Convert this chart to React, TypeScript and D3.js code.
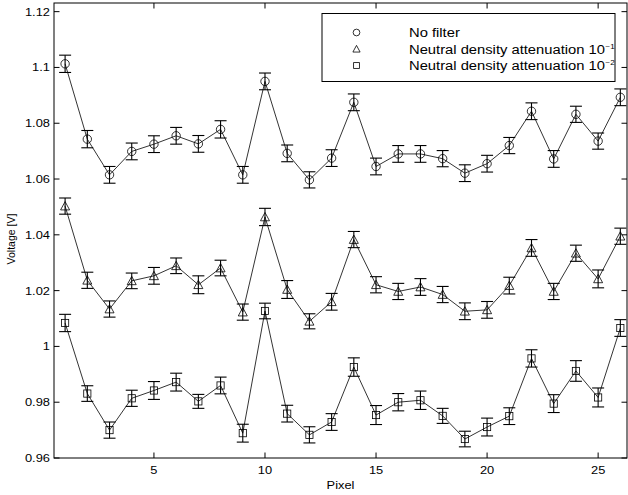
import { useEffect, useRef } from 'react';
import * as d3 from 'd3';

const pixels = [1, 2, 3, 4, 5, 6, 7, 8, 9, 10, 11, 12, 13, 14, 15, 16, 17, 18, 19, 20, 21, 22, 23, 24, 25, 26];

const noFilter = [1.1013, 1.0743, 1.0615, 1.0699, 1.0725, 1.0755, 1.0726, 1.0778, 1.0615, 1.0950, 1.0692, 1.0597, 1.0675,
  1.0875, 1.0645, 1.0690, 1.0690, 1.0673, 1.0621, 1.0655, 1.0720, 1.0843, 1.0672, 1.0832, 1.0736, 1.0893];
const noFilterErr = [0.0031, 0.0031, 0.0030, 0.0030, 0.0030, 0.0030, 0.0030, 0.0031, 0.0030, 0.0030, 0.0030, 0.0029, 0.0030,
  0.0030, 0.0030, 0.0030, 0.0030, 0.0029, 0.0030, 0.0030, 0.0029, 0.0030, 0.0030, 0.0029, 0.0029, 0.0030];

const nd1 = [1.0503, 1.0237, 1.0134, 1.0235, 1.0253, 1.0289, 1.0221, 1.0281, 1.0123, 1.0464, 1.0204, 1.0090, 1.0160,
  1.0383, 1.0221, 1.0197, 1.0213, 1.0186, 1.0126, 1.0131, 1.0218, 1.0353, 1.0197, 1.0334, 1.0242, 1.0395];
const nd1Err = [0.0029, 0.0029, 0.0029, 0.0028, 0.0030, 0.0028, 0.0032, 0.0028, 0.0029, 0.0031, 0.0032, 0.0027, 0.0030,
  0.0029, 0.0029, 0.0029, 0.0030, 0.0029, 0.0030, 0.0030, 0.0030, 0.0030, 0.0029, 0.0029, 0.0032, 0.0029];

const nd2 = [1.0084, 0.9831, 0.9700, 0.9814, 0.9842, 0.9872, 0.9803, 0.9860, 0.9689, 1.0127, 0.9759, 0.9683, 0.9729,
  0.9926, 0.9754, 0.9800, 0.9807, 0.9751, 0.9668, 0.9711, 0.9750, 0.9957, 0.9795, 0.9912, 0.9817, 1.0066];
const nd2Err = [0.0031, 0.0028, 0.0029, 0.0029, 0.0032, 0.0032, 0.0025, 0.0030, 0.0032, 0.0028, 0.0030, 0.0029, 0.0030,
  0.0033, 0.0034, 0.0031, 0.0033, 0.0027, 0.0028, 0.0032, 0.0030, 0.0031, 0.0032, 0.0037, 0.0034, 0.0030];

const xTicks = [5, 10, 15, 20, 25];
const yTicks = [0.96, 0.98, 1.0, 1.02, 1.04, 1.06, 1.08, 1.1, 1.12];

const legendLabels = ['No filter', 'Neutral density attenuation 10', 'Neutral density attenuation 10'];
const legendSups = ['', '\u22121', '\u22122'];

const FONT = '"Liberation Sans", Arial, Helvetica, sans-serif';

type Shape = 'circle' | 'triangle' | 'square';
type G = d3.Selection<SVGGElement, unknown, null, undefined>;

const App = () => {
  const ref = useRef<SVGSVGElement>(null);

  useEffect(() => {
    if (!ref.current) return;
    const svg = d3.select(ref.current);
    svg.selectAll('*').remove();

    const left = 54, right = 627, top = 3, bottom = 458;

    const x = d3.scaleLinear().domain([0.5, 26.3]).range([left, right]);
    const y = d3.scaleLinear().domain([0.96, 1.1231]).range([bottom, top]);

    // the original renderer's text is a bit wider than Liberation Sans
    const label = (g: G, tx: number, ty: number, str: string, size: number, sx: number, anchor: string) =>
      g.append('text')
        .attr('transform', `translate(${tx},${ty}) scale(${sx},1)`)
        .attr('text-anchor', anchor)
        .attr('font-family', FONT)
        .attr('font-size', size)
        .attr('fill', '#000')
        .text(str);

    const drawMarker = (g: G, shape: Shape, cx: number, cy: number, s: number) => {
      if (shape === 'circle') {
        g.append('circle').attr('cx', cx).attr('cy', cy).attr('r', 4.2 * s)
          .attr('fill', 'none').attr('stroke', '#000').attr('stroke-width', 0.8);
      } else if (shape === 'triangle') {
        const h = 4.5 * s;
        g.append('path')
          .attr('d', `M${cx},${cy - h} L${cx + h},${cy + h * 0.85} L${cx - h},${cy + h * 0.85} Z`)
          .attr('fill', 'none').attr('stroke', '#000').attr('stroke-width', 0.8);
      } else {
        const h = 3.6 * s;
        g.append('rect').attr('x', cx - h).attr('y', cy - h).attr('width', 2 * h).attr('height', 2 * h)
          .attr('fill', 'none').attr('stroke', '#000').attr('stroke-width', 0.8);
      }
    };

    const series: { vals: number[]; errs: number[]; shape: Shape }[] = [
      { vals: noFilter, errs: noFilterErr, shape: 'circle' },
      { vals: nd1, errs: nd1Err, shape: 'triangle' },
      { vals: nd2, errs: nd2Err, shape: 'square' },
    ];

    const plot = svg.append('g');

    series.forEach(s => {
      const line = d3.line<number>()
        .x((_, i) => x(pixels[i]))
        .y(d => y(d));
      plot.append('path').attr('d', line(s.vals))
        .attr('fill', 'none').attr('stroke', '#000').attr('stroke-width', 0.8);

      s.vals.forEach((v, i) => {
        const cx = x(pixels[i]);
        const y1 = y(v + s.errs[i]);
        const y2 = y(v - s.errs[i]);
        plot.append('line').attr('x1', cx).attr('x2', cx).attr('y1', y1).attr('y2', y2)
          .attr('stroke', '#000').attr('stroke-width', 1.1);
        [y1, y2].forEach(yy => {
          plot.append('line').attr('x1', cx - 6).attr('x2', cx + 6).attr('y1', yy).attr('y2', yy)
            .attr('stroke', '#000').attr('stroke-width', 1.1);
        });
        drawMarker(plot, s.shape, cx, y(v), 1);
      });
    });

    // axes box and inward ticks
    const ax = svg.append('g').attr('stroke', '#000').attr('stroke-width', 1);
    ax.append('rect').attr('x', left).attr('y', top).attr('width', right - left).attr('height', bottom - top)
      .attr('fill', 'none');
    const tl = 5.5;
    xTicks.forEach(t => {
      ax.append('line').attr('x1', x(t)).attr('x2', x(t)).attr('y1', bottom).attr('y2', bottom - tl);
      ax.append('line').attr('x1', x(t)).attr('x2', x(t)).attr('y1', top).attr('y2', top + tl);
    });
    yTicks.forEach(t => {
      ax.append('line').attr('x1', left).attr('x2', left + tl).attr('y1', y(t)).attr('y2', y(t));
      ax.append('line').attr('x1', right).attr('x2', right - tl).attr('y1', y(t)).attr('y2', y(t));
    });

    const txt = svg.append('g');
    xTicks.forEach(t => label(txt, x(t), bottom + 16, String(t), 11, 1.17, 'middle'));
    yTicks.forEach(t => label(txt, left - 4, y(t) + 4, String(+t.toFixed(2)), 11, 1.17, 'end'));
    label(txt, (left + right) / 2, 489, 'Pixel', 11, 1.17, 'middle');
    txt.append('text').attr('transform', `translate(15,239) rotate(-90)`).attr('text-anchor', 'middle')
      .attr('font-family', FONT).attr('font-size', 10.5).attr('fill', '#000')
      .text('Voltage [V]');

    // legend
    const lg = svg.append('g');
    lg.append('rect').attr('x', 322).attr('y', 13.5).attr('width', 293).attr('height', 68)
      .attr('fill', '#fff').attr('stroke', '#000').attr('stroke-width', 1);
    const shapes: Shape[] = ['circle', 'triangle', 'square'];
    shapes.forEach((sh, i) => {
      const cy = 32.5 + i * 16.5;
      drawMarker(lg, sh, 356.5, cy, 0.8);
      const t = label(lg, 409, cy + 4.5, '', 12, 1.23, 'start');
      t.append('tspan').text(legendLabels[i]);
      if (legendSups[i]) {
        t.append('tspan').attr('dy', -5).attr('dx', 0.5).attr('font-size', 6.5).text(legendSups[i]);
      }
    });
  }, []);

  return (
    <svg
      ref={ref}
      width={628}
      height={495}
      style={{ position: 'absolute', left: 0, top: 0, background: '#fff' }}
    />
  );
};

export default App;
